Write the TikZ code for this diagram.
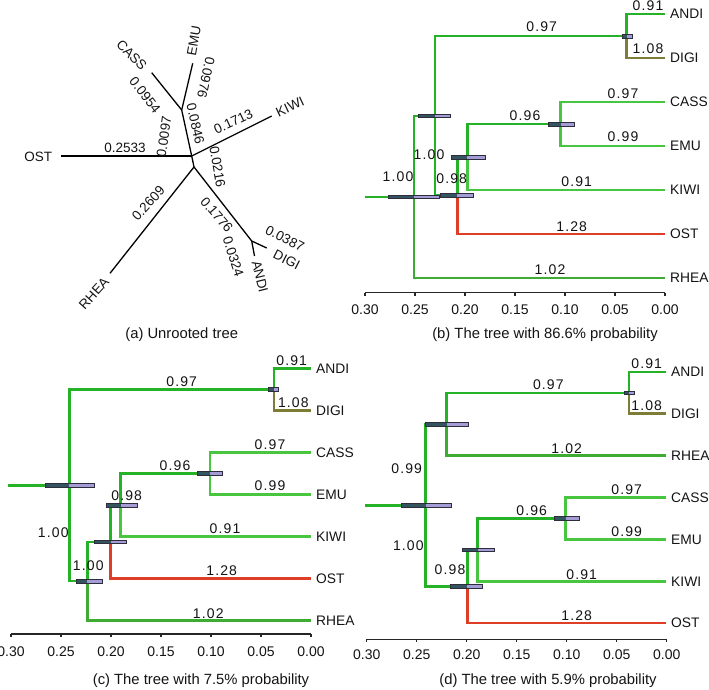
\documentclass[tikz,border=0pt]{standalone}
\usepackage{fontspec}
\setmainfont{Liberation Sans}
\newfontfamily\lblfont[LetterSpace=8]{Liberation Sans}
\definecolor{gA}{RGB}{38,178,38}
\definecolor{gB}{RGB}{72,198,64}
\definecolor{gR}{RGB}{62,172,50}
\definecolor{olv}{RGB}{125,125,55}
\definecolor{ostred}{RGB}{222,62,40}
\definecolor{bardark}{RGB}{52,84,96}
\definecolor{barlight}{RGB}{164,156,212}
\definecolor{barline}{RGB}{45,45,60}
\definecolor{txt}{RGB}{20,20,20}
\tikzset{
  brA/.style={line width=2.5pt, draw=gA},
  brB/.style={line width=2.5pt, draw=gB},
  brR/.style={line width=2.5pt, draw=gR},
  brD/.style={line width=2.5pt, draw=olv},
  brO/.style={line width=2.5pt, draw=ostred},
  bl/.style={font=\lblfont\fontsize{14}{14}\selectfont, inner sep=0pt, text=txt},
  leaf/.style={font=\fontsize{13.8}{14}\selectfont, inner sep=0pt, anchor=west, text=txt},
  ticklbl/.style={font=\fontsize{14}{14}\selectfont, inner sep=0pt, text=txt},
  captn/.style={font=\fontsize{14.8}{16}\selectfont, inner sep=0pt, anchor=base, text=txt},
  ut/.style={line width=1.3pt, draw=black},
  ul/.style={font=\fontsize{13.5}{14}\selectfont, inner sep=0pt, text=txt},
  axisln/.style={line width=1.2pt, draw=black!85},
}
\newcommand{\hpdbar}[4]{%
  \fill[bardark] (#1,#4-1.8) rectangle (#2,#4+1.8);
  \fill[barlight] (#2,#4-1.8) rectangle (#3,#4+1.8);
  \draw[barline, line width=0.6pt] (#1,#4-1.8) rectangle (#3,#4+1.8);}
\begin{document}
\begin{tikzpicture}[x=1pt,y=-1pt]
\useasboundingbox (0,0) rectangle (709,689);
\fill[white] (0,0) rectangle (709,689);

% ================= (a) unrooted tree =================
\coordinate (aA) at (181.7,110);
\coordinate (aB) at (191.7,156);
\coordinate (aC) at (194,167);
\coordinate (aD) at (251.7,241);
\coordinate (aCASS) at (151.7,72.7);
\coordinate (aEMU) at (192.7,63.3);
\coordinate (aKIWI) at (271.7,116);
\coordinate (aOST) at (61,156);
\coordinate (aRHEA) at (110,273.3);
\coordinate (aANDI) at (254.5,256);
\coordinate (aDIGI) at (266.7,248);
\draw[ut] (aA) -- (aCASS);
\draw[ut] (aA) -- (aEMU);
\draw[ut] (aA) -- (aB);
\draw[ut] (aB) -- (aKIWI);
\draw[ut] (aB) -- (aOST);
\draw[ut] (aB) -- (aC);
\draw[ut] (aC) -- (aRHEA);
\draw[ut] (aC) -- (aD);
\draw[ut] (aD) -- (aANDI);
\draw[ut] (aD) -- (aDIGI);
\node[ul, rotate=-46] (atCASS) at (131.7,55) {CASS};
\node[ul, rotate=80] (atEMU) at (194,41) {EMU};
\node[ul, rotate=25] (atKIWI) at (290,106.7) {KIWI};
\node[ul] (atOST) at (38.3,157.3) {OST};
\node[ul, rotate=48] (atRHEA) at (94,293.3) {RHEA};
\node[ul, rotate=-27] (atDIGI) at (286.7,260) {DIGI};
\node[ul, rotate=-76] (atANDI) at (260,276.7) {ANDI};
\node[ul, rotate=-102] (avEMU) at (206,77.5) {0.0976};
\node[ul, rotate=-52] (avCASS) at (145,95) {0.0954};
\node[ul, rotate=82] (avAB) at (164,136.7) {0.0097};
\node[ul, rotate=-77] (avAB2) at (195.5,124) {0.0846};
\node[ul, rotate=25] (avKIWI) at (233.3,121.7) {0.1713};
\node[ul] (avOST) at (125,147.7) {0.2533};
\node[ul, rotate=-80] (avCD) at (217.5,166.7) {0.0216};
\node[ul, rotate=48] (avRHEA) at (148.3,203.3) {0.2609};
\node[ul, rotate=-49] (avCD2) at (216.7,215) {0.1776};
\node[ul, rotate=-27] (avDIGI) at (285,238.3) {0.0387};
\node[ul, rotate=-72] (avANDI) at (233.3,256.7) {0.0324};
\node[captn] (capa) at (181.7,338) {(a) Unrooted tree};

% ================= (b) =================
\coordinate (bANDI) at (665,14);
\coordinate (bDIGI) at (665,58);
\coordinate (bCASS) at (665,102);
\coordinate (bEMU) at (665,146);
\coordinate (bKIWI) at (665,190);
\coordinate (bOST) at (665,234);
\coordinate (bRHEA) at (665,278);
\coordinate (bAD) at (626.7,36);
\coordinate (bCE) at (560.7,124);
\coordinate (bCEK) at (467.3,157);
\coordinate (bCEKO) at (457.3,195.5);
\coordinate (bX) at (435,115.75);
\coordinate (bRoot) at (414,196.9);
\coordinate (bStem) at (365,196.9);
\draw[brA] (bAD) |- (bANDI);
\draw[brD] (bAD) |- (bDIGI);
\draw[brB] (bCE) |- (bCASS);
\draw[brB] (bCE) |- (bEMU);
\draw[brA] (bCEK) |- (bCE);
\draw[brB] (bCEK) |- (bKIWI);
\draw[brA] (bCEKO) |- (bCEK);
\draw[brO] (bCEKO) |- (bOST);
\draw[brA] (bX) |- (bAD);
\draw[brA] (bX) |- (bCEKO);
\draw[brA] (bRoot) |- (bX);
\draw[brR] (bRoot) |- (bRHEA);
\draw[brA] (bStem) -- (bRoot);
\hpdbar{388}{414}{439}{196.9}
\hpdbar{418}{435}{450}{115.75}
\hpdbar{440}{457.3}{473}{195.5}
\hpdbar{451.7}{467.3}{485}{157}
\hpdbar{548}{560.7}{574}{124}
\hpdbar{622.7}{626.7}{632.7}{36}
\node[leaf] (lbANDI) at (670,14) {ANDI};
\node[leaf] (lbDIGI) at (670,58) {DIGI};
\node[leaf] (lbCASS) at (670,102) {CASS};
\node[leaf] (lbEMU) at (670,146) {EMU};
\node[leaf] (lbKIWI) at (670,190) {KIWI};
\node[leaf] (lbOST) at (670,234) {OST};
\node[leaf] (lbRHEA) at (670,278) {RHEA};
\node[bl] (vb1) at (648,5.2) {0.91};
\node[bl] (vb2) at (648,49) {1.08};
\node[bl] (vb3) at (541.7,26.7) {0.97};
\node[bl] (vb4) at (623,94) {0.97};
\node[bl] (vb5) at (525,116) {0.96};
\node[bl] (vb6) at (623,137) {0.99};
\node[bl] (vb7) at (429,155) {1.00};
\node[bl] (vb8) at (398,177) {1.00};
\node[bl] (vb9) at (451.7,179) {0.98};
\node[bl] (vb10) at (576.7,182) {0.91};
\node[bl] (vb11) at (571.7,226.7) {1.28};
\node[bl] (vb12) at (550,270) {1.02};
\draw[axisln] (365,292.5) -- (665,292.5);
\foreach \i/\t in {0/0.30,1/0.25,2/0.20,3/0.15,4/0.10,5/0.05,6/0.00}{
  \draw[axisln] (365+50*\i,292.5) -- (365+50*\i,295.5);
  \node[ticklbl] (tb\i) at (365+50*\i,309.5) {\t};
}
\node[captn] (capb) at (545,338) {(b) The tree with 86.6\% probability};

% ================= (c) =================
\coordinate (cANDI) at (311,368.5);
\coordinate (cDIGI) at (311,410.5);
\coordinate (cCASS) at (311,452.5);
\coordinate (cEMU) at (311,494.5);
\coordinate (cKIWI) at (311,536.5);
\coordinate (cOST) at (311,578.5);
\coordinate (cRHEA) at (311,620.5);
\coordinate (cAD) at (274,389.5);
\coordinate (cCE) at (210,473.5);
\coordinate (cCEK) at (120.7,505);
\coordinate (cCEKO) at (110.7,541.75);
\coordinate (cCEKOR) at (87.3,581.1);
\coordinate (cRoot) at (69.3,485.3);
\coordinate (cStem) at (8.3,485.3);
\draw[brA] (cAD) |- (cANDI);
\draw[brD] (cAD) |- (cDIGI);
\draw[brB] (cCE) |- (cCASS);
\draw[brB] (cCE) |- (cEMU);
\draw[brA] (cCEK) |- (cCE);
\draw[brB] (cCEK) |- (cKIWI);
\draw[brA] (cCEKO) |- (cCEK);
\draw[brO] (cCEKO) |- (cOST);
\draw[brA] (cCEKOR) |- (cCEKO);
\draw[brR] (cCEKOR) |- (cRHEA);
\draw[brA] (cRoot) |- (cAD);
\draw[brA] (cRoot) |- (cCEKOR);
\draw[brA] (cStem) -- (cRoot);
\hpdbar{45}{69.3}{94.3}{485.3}
\hpdbar{76}{87.3}{102.3}{581.1}
\hpdbar{94.3}{110.7}{126}{541.75}
\hpdbar{106}{120.7}{137.7}{505}
\hpdbar{197.3}{210}{222.7}{473.5}
\hpdbar{268}{274}{278}{389.5}
\node[leaf] (lcANDI) at (316,368.5) {ANDI};
\node[leaf] (lcDIGI) at (316,410.5) {DIGI};
\node[leaf] (lcCASS) at (316,452.5) {CASS};
\node[leaf] (lcEMU) at (316,494.5) {EMU};
\node[leaf] (lcKIWI) at (316,536.5) {KIWI};
\node[leaf] (lcOST) at (316,578.5) {OST};
\node[leaf] (lcRHEA) at (316,620.5) {RHEA};
\node[bl] (vc1) at (291.7,360.7) {0.91};
\node[bl] (vc2) at (293.3,402.7) {1.08};
\node[bl] (vc3) at (181.7,381.7) {0.97};
\node[bl] (vc4) at (270,444.3) {0.97};
\node[bl] (vc5) at (175,466) {0.96};
\node[bl] (vc6) at (270,486) {0.99};
\node[bl] (vc7) at (126.7,496) {0.98};
\node[bl] (vc8) at (225,529) {0.91};
\node[bl] (vc9) at (53.3,532.7) {1.00};
\node[bl] (vc10) at (221.7,570.7) {1.28};
\node[bl] (vc11) at (88.3,565.7) {1.00};
\node[bl] (vc12) at (208.3,613.3) {1.02};
\draw[axisln] (11,634) -- (311,634);
\foreach \i/\t in {0/0.30,1/0.25,2/0.20,3/0.15,4/0.10,5/0.05,6/0.00}{
  \draw[axisln] (11+50*\i,634) -- (11+50*\i,637);
  \node[ticklbl] (tc\i) at (11+50*\i,651.7) {\t};
}
\node[captn] (capc) at (201,684) {(c) The tree with 7.5\% probability};

% ================= (d) =================
\coordinate (dANDI) at (666,371.8);
\coordinate (dDIGI) at (666,413.7);
\coordinate (dRHEA) at (666,455.6);
\coordinate (dCASS) at (666,497.5);
\coordinate (dEMU) at (666,539.4);
\coordinate (dKIWI) at (666,581.3);
\coordinate (dOST) at (666,623.2);
\coordinate (dAD) at (629,392.75);
\coordinate (dADR) at (446.7,424.2);
\coordinate (dCE) at (565.7,518.45);
\coordinate (dCEK) at (477.7,549.9);
\coordinate (dCEKO) at (467.3,586.55);
\coordinate (dRoot) at (425.7,505.4);
\coordinate (dStem) at (365,505.4);
\draw[brA] (dAD) |- (dANDI);
\draw[brD] (dAD) |- (dDIGI);
\draw[brA] (dADR) |- (dAD);
\draw[brR] (dADR) |- (dRHEA);
\draw[brB] (dCE) |- (dCASS);
\draw[brB] (dCE) |- (dEMU);
\draw[brA] (dCEK) |- (dCE);
\draw[brB] (dCEK) |- (dKIWI);
\draw[brA] (dCEKO) |- (dCEK);
\draw[brO] (dCEKO) |- (dOST);
\draw[brA] (dRoot) |- (dADR);
\draw[brA] (dRoot) |- (dCEKO);
\draw[brA] (dStem) -- (dRoot);
\hpdbar{401.7}{425.7}{451}{505.4}
\hpdbar{425}{446.7}{468.3}{424.2}
\hpdbar{450.7}{467.3}{482.3}{586.55}
\hpdbar{462.3}{477.7}{494.3}{549.9}
\hpdbar{554}{565.7}{579}{518.45}
\hpdbar{624}{629}{634}{392.75}
\node[leaf] (ldANDI) at (671,371.8) {ANDI};
\node[leaf] (ldDIGI) at (671,413.7) {DIGI};
\node[leaf] (ldRHEA) at (671,455.6) {RHEA};
\node[leaf] (ldCASS) at (671,497.5) {CASS};
\node[leaf] (ldEMU) at (671,539.4) {EMU};
\node[leaf] (ldKIWI) at (671,581.3) {KIWI};
\node[leaf] (ldOST) at (671,623.2) {OST};
\node[bl] (vd1) at (646.7,363.3) {0.91};
\node[bl] (vd2) at (646.7,406) {1.08};
\node[bl] (vd3) at (548.3,385) {0.97};
\node[bl] (vd4) at (566.7,448.3) {1.02};
\node[bl] (vd5) at (406.7,468.3) {0.99};
\node[bl] (vd6) at (626.7,490) {0.97};
\node[bl] (vd7) at (531.7,511) {0.96};
\node[bl] (vd8) at (626.7,531.7) {0.99};
\node[bl] (vd9) at (408.3,546) {1.00};
\node[bl] (vd10) at (450,570) {0.98};
\node[bl] (vd11) at (581.7,574.3) {0.91};
\node[bl] (vd12) at (576.7,615.7) {1.28};
\draw[axisln] (366.7,639.3) -- (666.7,639.3);
\foreach \i/\t in {0/0.30,1/0.25,2/0.20,3/0.15,4/0.10,5/0.05,6/0.00}{
  \draw[axisln] (366.7+50*\i,639.3) -- (366.7+50*\i,642.3);
  \node[ticklbl] (td\i) at (366.7+50*\i,655) {\t};
}
\node[captn] (capd) at (548,684) {(d) The tree with 5.9\% probability};
\end{tikzpicture}
\end{document}
